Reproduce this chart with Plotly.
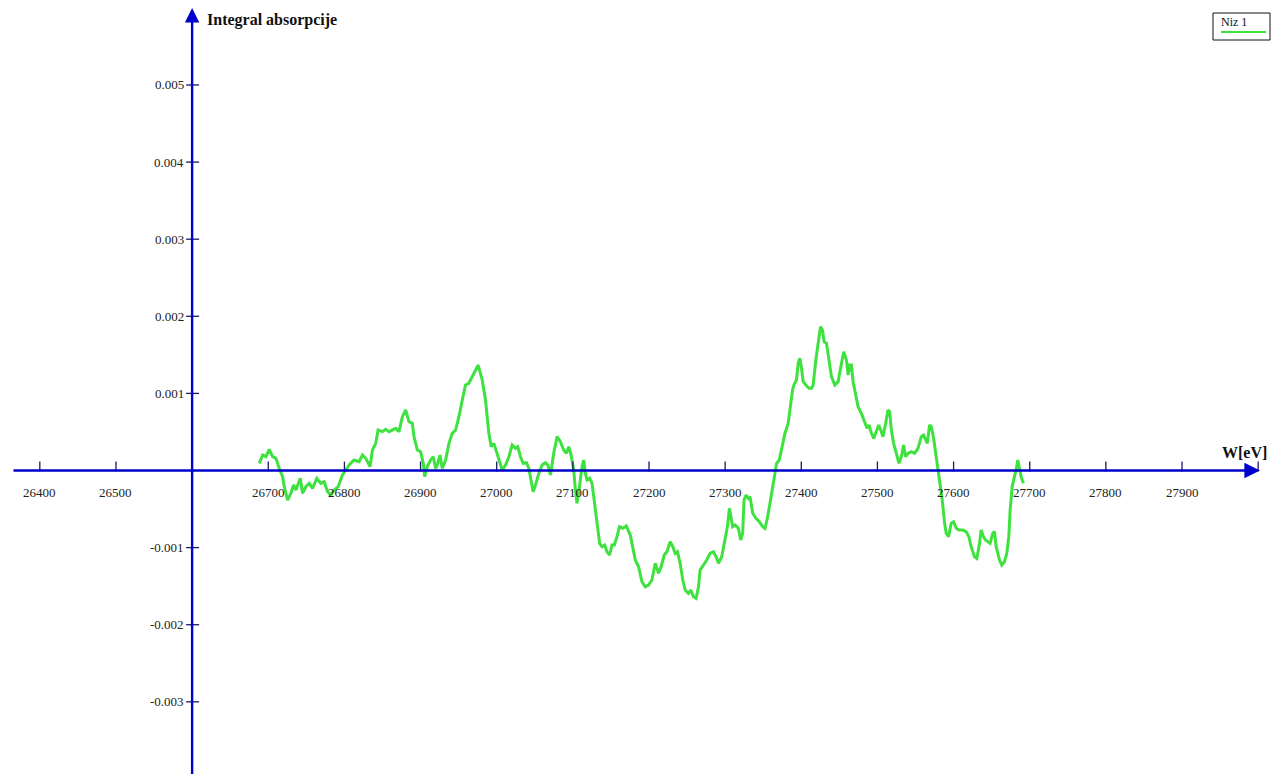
import numpy as np
import plotly.graph_objects as go

# ---- data (W in eV, integral absorption in units of 1e-3) ----
energy_ev = [
    26688.2, 26692.6, 26697.0, 26701.3, 26705.7, 26710.1, 26714.4, 26718.8, 26721.0, 26725.4,
    26729.7, 26733.2, 26736.3, 26742.0, 26745.0, 26749.4, 26753.8, 26758.1, 26763.8, 26769.0,
    26773.4, 26777.8, 26782.2, 26786.5, 26791.8, 26797.4, 26801.8, 26806.2, 26812.7, 26819.3,
    26823.7, 26828.0, 26833.7, 26836.8, 26841.1, 26844.2, 26849.9, 26854.2, 26858.6, 26863.0,
    26867.3, 26871.7, 26876.1, 26880.5, 26884.8, 26889.2, 26891.4, 26895.8, 26900.1, 26903.6,
    26905.4, 26908.9, 26913.2, 26916.7, 26919.8, 26922.0, 26925.5, 26928.5, 26932.9, 26937.3,
    26941.6, 26946.0, 26950.4, 26954.8, 26959.0, 26963.4, 26970.0, 26975.7, 26981.0, 26985.3,
    26989.7, 26992.8, 26996.3, 26999.8, 27004.2, 27007.2, 27011.6, 27016.0, 27020.3, 27024.7,
    27027.7, 27031.2, 27034.7, 27039.1, 27042.2, 27045.2, 27047.8, 27050.9, 27055.3, 27059.6,
    27064.0, 27067.1, 27070.6, 27074.9, 27079.3, 27083.7, 27088.0, 27091.5, 27094.6, 27097.7,
    27101.2, 27103.3, 27105.5, 27109.0, 27112.1, 27114.3, 27116.4, 27118.6, 27122.1, 27125.2,
    27127.4, 27129.5, 27131.7, 27135.2, 27138.3, 27141.8, 27144.8, 27148.3, 27151.4, 27154.5,
    27157.9, 27161.4, 27165.8, 27170.2, 27175.4, 27178.9, 27182.0, 27186.3, 27190.7, 27195.1,
    27199.4, 27203.8, 27208.2, 27212.5, 27216.0, 27220.0, 27223.5, 27227.8, 27231.3, 27234.4,
    27237.4, 27240.9, 27244.4, 27247.5, 27251.8, 27254.9, 27258.4, 27261.9, 27265.0, 27267.1,
    27271.5, 27275.9, 27280.2, 27284.6, 27288.1, 27291.2, 27295.5, 27299.9, 27303.0, 27305.6,
    27307.8, 27309.9, 27313.0, 27317.4, 27320.4, 27323.0, 27324.8, 27327.4, 27330.5, 27332.7,
    27336.2, 27340.5, 27344.9, 27349.3, 27352.3, 27355.4, 27358.9, 27362.4, 27365.4, 27367.6,
    27371.1, 27375.4, 27378.5, 27382.8, 27385.0, 27388.5, 27390.3, 27393.7, 27395.9, 27398.1,
    27400.3, 27402.5, 27406.0, 27410.3, 27413.4, 27415.6, 27419.1, 27422.1, 27425.2, 27427.8,
    27430.0, 27433.1, 27436.6, 27439.6, 27444.0, 27448.4, 27451.9, 27455.8, 27459.3, 27461.5,
    27463.6, 27465.8, 27468.0, 27471.5, 27474.6, 27478.9, 27483.3, 27486.4, 27489.0, 27492.1,
    27495.1, 27498.6, 27501.7, 27504.3, 27507.3, 27510.8, 27513.9, 27516.1, 27518.3, 27521.3,
    27524.8, 27528.3, 27531.4, 27534.4, 27537.0, 27540.1, 27544.5, 27548.8, 27553.2, 27557.6,
    27560.6, 27563.3, 27565.5, 27568.5, 27570.7, 27573.8, 27577.2, 27580.7, 27585.1, 27588.2,
    27590.4, 27593.4, 27596.9, 27600.0, 27603.5, 27607.0, 27612.2, 27616.6, 27620.1, 27623.1,
    27627.5, 27630.6, 27634.1, 27636.2, 27639.3, 27641.9, 27645.0, 27648.0, 27651.5, 27653.7,
    27655.9, 27660.3, 27663.3, 27666.8, 27669.9, 27672.5, 27674.3, 27676.9, 27679.9, 27682.1,
    27684.3, 27686.5, 27688.7, 27691.7,
]
absorption_milli = [
    0.093, 0.201, 0.179, 0.275, 0.179, 0.158, 0.028, -0.080, -0.210, -0.383,
    -0.296, -0.188, -0.253, -0.101, -0.296, -0.210, -0.166, -0.231, -0.101, -0.166,
    -0.145, -0.275, -0.318, -0.253, -0.210, -0.058, 0.006, 0.071, 0.136, 0.114,
    0.201, 0.158, 0.050, 0.266, 0.352, 0.525, 0.504, 0.534, 0.504, 0.525,
    0.547, 0.504, 0.698, 0.785, 0.633, 0.612, 0.438, 0.266, 0.244, 0.093,
    -0.080, 0.050, 0.136, 0.179, 0.028, 0.071, 0.201, 0.028, 0.136, 0.352,
    0.482, 0.525, 0.698, 0.914, 1.109, 1.131, 1.260, 1.368, 1.174, 0.914,
    0.482, 0.309, 0.352, 0.244, 0.093, 0.006, 0.071, 0.179, 0.331, 0.288,
    0.309, 0.179, 0.093, 0.101, 0.028, -0.166, -0.275, -0.188, -0.037, 0.071,
    0.101, 0.071, -0.058, 0.223, 0.439, 0.374, 0.266, 0.223, 0.309, 0.201,
    0.006, -0.253, -0.426, -0.188, 0.050, 0.136, -0.037, -0.123, -0.101, -0.166,
    -0.339, -0.512, -0.642, -0.945, -0.988, -0.966, -1.053, -1.096, -0.966, -0.966,
    -0.858, -0.728, -0.750, -0.720, -0.837, -0.988, -1.161, -1.247, -1.442, -1.507,
    -1.485, -1.420, -1.204, -1.333, -1.247, -1.096, -1.053, -0.923, -0.988, -1.074,
    -1.053, -1.204, -1.420, -1.550, -1.593, -1.550, -1.636, -1.658, -1.507, -1.291,
    -1.226, -1.161, -1.074, -1.053, -1.118, -1.204, -1.118, -0.858, -0.728, -0.491,
    -0.642, -0.728, -0.707, -0.750, -0.901, -0.815, -0.383, -0.318, -0.361, -0.339,
    -0.555, -0.620, -0.664, -0.728, -0.750, -0.620, -0.426, -0.210, -0.015, 0.093,
    0.136, 0.352, 0.482, 0.612, 0.785, 1.044, 1.109, 1.174, 1.390, 1.455,
    1.325, 1.152, 1.109, 1.066, 1.066, 1.109, 1.433, 1.671, 1.865, 1.822,
    1.671, 1.649, 1.433, 1.217, 1.109, 1.152, 1.347, 1.541, 1.433, 1.239,
    1.368, 1.368, 1.152, 0.957, 0.828, 0.741, 0.633, 0.547, 0.590, 0.482,
    0.417, 0.504, 0.590, 0.525, 0.439, 0.612, 0.785, 0.763, 0.525, 0.352,
    0.201, 0.093, 0.179, 0.331, 0.179, 0.223, 0.244, 0.223, 0.288, 0.439,
    0.460, 0.396, 0.352, 0.590, 0.568, 0.417, 0.158, -0.037, -0.383, -0.685,
    -0.815, -0.858, -0.685, -0.664, -0.750, -0.772, -0.772, -0.793, -0.858, -0.988,
    -1.118, -1.139, -0.945, -0.772, -0.858, -0.901, -0.923, -0.945, -0.815, -0.793,
    -0.988, -1.161, -1.226, -1.183, -1.074, -0.858, -0.512, -0.210, -0.080, 0.006,
    0.136, 0.028, -0.080, -0.166,
]
x_ticks = [26400, 26500, 26700, 26800, 26900, 27000, 27100, 27200, 27300,
           27400, 27500, 27600, 27700, 27800, 27900, 28000]
x_tick_labels = ["26400", "26500", "26700", "26800", "26900", "27000", "27100", "27200",
                 "27300", "27400", "27500", "27600", "27700", "27800", "27900", ""]
y_ticks = [0.005, 0.004, 0.003, 0.002, 0.001, -0.001, -0.002, -0.003]
y_tick_labels = ["0.005", "0.004", "0.003", "0.002", "0.001", "-0.001", "-0.002", "-0.003"]
series_name = "Niz 1"
x_title = "W[eV]"
y_title = "Integral absorpcije"

# ---- styling ----
GREEN = "#3ee23e"
BLUE = "#0000cc"
TICK = "#1a1a66"
LABEL = "#222222"
FONT = "Liberation Serif"
X_ORIGIN = 26600.0
Y_ORIGIN = 0.0
X_RANGE = [26347.7, 28031.3]
Y_RANGE = [-3.936e-3, 6.102e-3]
PX_PER_X = 1282 / (X_RANGE[1] - X_RANGE[0])
PX_PER_Y = 774 / (Y_RANGE[1] - Y_RANGE[0])

absorption = np.array(absorption_milli) * 1e-3

fig = go.Figure()
fig.add_trace(go.Scatter(
    x=energy_ev, y=absorption, mode="lines", name=series_name,
    line=dict(color=GREEN, width=3), showlegend=False, hoverinfo="x+y",
))

shapes = []
annotations = []

# axes with arrows (crossing at X_ORIGIN, 0)
annotations.append(dict(
    x=X_RANGE[1] - 22 / PX_PER_X, y=Y_ORIGIN, ax=X_RANGE[0] + 12 / PX_PER_X, ay=Y_ORIGIN,
    xref="x", yref="y", axref="x", ayref="y", text="", showarrow=True,
    arrowhead=2, arrowsize=1.2, arrowwidth=2.6, arrowcolor=BLUE, standoff=0, startstandoff=0,
))
annotations.append(dict(
    x=X_ORIGIN, y=Y_RANGE[1] - 8 / PX_PER_Y, ax=X_ORIGIN, ay=Y_RANGE[0] - 0.0001,
    xref="x", yref="y", axref="x", ayref="y", text="", showarrow=True,
    arrowhead=2, arrowsize=1.2, arrowwidth=2.4, arrowcolor=BLUE, standoff=0, startstandoff=0,
))

# x ticks and labels
for xv, lab in zip(x_ticks, x_tick_labels):
    shapes.append(dict(type="line", xref="x", yref="y", x0=xv, x1=xv,
                       y0=Y_ORIGIN - 1 / PX_PER_Y, y1=Y_ORIGIN + 9 / PX_PER_Y,
                       line=dict(color=TICK, width=1.3)))
    if lab:
        annotations.append(dict(x=xv, y=Y_ORIGIN - 22 / PX_PER_Y, xref="x", yref="y",
                                text=lab, showarrow=False, xanchor="center", yanchor="middle",
                                font=dict(family=FONT, size=13, color=LABEL)))

# y ticks and labels
for yv, lab in zip(y_ticks, y_tick_labels):
    shapes.append(dict(type="line", xref="x", yref="y",
                       x0=X_ORIGIN - 6 / PX_PER_X, x1=X_ORIGIN + 7 / PX_PER_X, y0=yv, y1=yv,
                       line=dict(color=TICK, width=1.3)))
    annotations.append(dict(x=X_ORIGIN - 6 / PX_PER_X, y=yv, xref="x", yref="y",
                            text=lab, showarrow=False, xanchor="right", yanchor="middle",
                            font=dict(family=FONT, size=13, color=LABEL)))

# axis titles
annotations.append(dict(x=X_ORIGIN + 13 / PX_PER_X, y=Y_RANGE[1] - 20 / PX_PER_Y,
                        xref="x", yref="y", text="<b>" + y_title + "</b>", showarrow=False,
                        xanchor="left", yanchor="middle",
                        font=dict(family=FONT, size=16, color="#111111")))
annotations.append(dict(x=X_RANGE[1] - 13 / PX_PER_X, y=Y_ORIGIN + 18 / PX_PER_Y,
                        xref="x", yref="y", text="<b>" + x_title + "</b>", showarrow=False,
                        xanchor="right", yanchor="middle",
                        font=dict(family=FONT, size=16, color="#111111")))

# legend box (text above sample line)
shapes.append(dict(type="rect", xref="paper", yref="paper",
                   x0=1213 / 1282, x1=1270 / 1282, y0=1 - 40 / 774, y1=1 - 13 / 774,
                   line=dict(color="#111111", width=1), fillcolor="white"))
shapes.append(dict(type="line", xref="paper", yref="paper",
                   x0=1221 / 1282, x1=1266 / 1282, y0=1 - 32 / 774, y1=1 - 32 / 774,
                   line=dict(color=GREEN, width=2)))
annotations.append(dict(x=1219 / 1282, y=1 - 22 / 774, xref="paper", yref="paper",
                        text=series_name, showarrow=False, xanchor="left", yanchor="middle",
                        font=dict(family=FONT, size=12, color="#111111")))

fig.update_layout(
    width=1282, height=774,
    margin=dict(l=0, r=0, t=0, b=0),
    paper_bgcolor="white", plot_bgcolor="white",
    xaxis=dict(range=X_RANGE, visible=False, fixedrange=True),
    yaxis=dict(range=Y_RANGE, visible=False, fixedrange=True),
    shapes=shapes, annotations=annotations, showlegend=False,
)

fig.write_html("out.html", config={"displayModeBar": False})
